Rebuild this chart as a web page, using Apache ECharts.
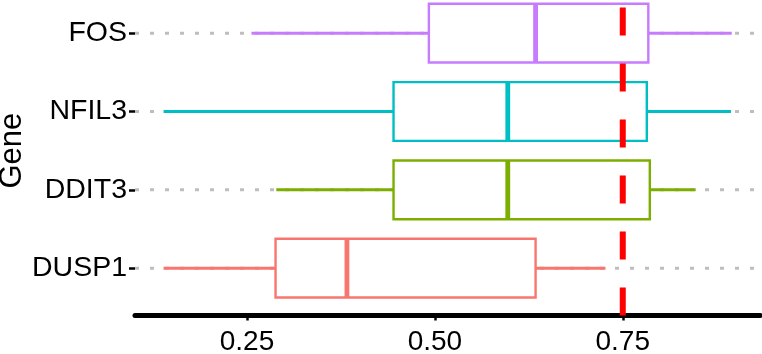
<!DOCTYPE html>
<html>
<head>
<meta charset="utf-8">
<script src="https://cdn.jsdelivr.net/npm/echarts@6/dist/echarts.min.js"></script>
<style>
  html, body { margin: 0; padding: 0; background: #fff; }
  #chart { width: 762px; height: 354px; }
</style>
</head>
<body>
<div id="chart"></div>
<script>
// genes, bottom to top
var genes = ["DUSP1", "DDIT3", "NFIL3", "FOS"];
var colors = ["#F8766D", "#7CAE00", "#00BFC4", "#C77CFF"];
// five-number summaries
var lower = [0.139, 0.289, 0.139, 0.256];
var q1 = [0.288, 0.445, 0.445, 0.492];
var median = [0.383, 0.597, 0.597, 0.634];
var q3 = [0.634, 0.786, 0.782, 0.784];
var upper = [0.727, 0.847, 0.894, 0.895];
var threshold = 0.75;
var xTicks = [0.25, 0.5, 0.75];
var xLimits = [0.101, 0.933];

var font = "'Liberation Sans', Arial, sans-serif";

var boxData = genes.map(function (g, i) {
  return [i, lower[i], q1[i], median[i], q3[i], upper[i]];
});

// dotted major grid lines at each gene
var gridSeries = genes.map(function (g) {
  return {
    type: "line",
    xAxisIndex: 0,
    yAxisIndex: 0,
    z: 1,
    silent: true,
    symbol: "none",
    lineStyle: { color: "#BEBEBE", width: 3, type: [4, 11], cap: "butt" },
    data: [[xLimits[0], g], [xLimits[1], g]],
  };
});

function renderBox(params, api) {
  var i = api.value(0);
  var band = api.size([0, 1])[1];
  var half = band * 0.75 / 2;
  var c = colors[i];
  var pLo = api.coord([api.value(1), i]);
  var pQ1 = api.coord([api.value(2), i]);
  var pMed = api.coord([api.value(3), i]);
  var pQ3 = api.coord([api.value(4), i]);
  var pHi = api.coord([api.value(5), i]);
  var y = pQ1[1];
  return {
    type: "group",
    children: [
      {
        type: "line",
        shape: { x1: pLo[0], y1: y, x2: pQ1[0], y2: y },
        style: { stroke: c, lineWidth: 3 },
      },
      {
        type: "line",
        shape: { x1: pQ3[0], y1: y, x2: pHi[0], y2: y },
        style: { stroke: c, lineWidth: 3 },
      },
      {
        type: "rect",
        shape: { x: pQ1[0], y: y - half, width: pQ3[0] - pQ1[0], height: half * 2 },
        style: { fill: "#fff", stroke: c, lineWidth: 2.4 },
      },
      {
        type: "line",
        shape: { x1: pMed[0], y1: y - half, x2: pMed[0], y2: y + half },
        style: { stroke: c, lineWidth: 4.8 },
      },
    ],
  };
}

var chart = echarts.init(document.getElementById("chart"));
var option = {
  animation: false,
  grid: [
    { left: 135, right: 1.7, top: -6, bottom: 46.7, outerBoundsMode: "none", containLabel: false },
    { left: 135, right: 1.7, top: 0, bottom: 38.5, outerBoundsMode: "none", containLabel: false },
  ],
  xAxis: [
    { gridIndex: 0, type: "value", min: xLimits[0], max: xLimits[1], show: false },
    {
      gridIndex: 1,
      type: "value",
      min: xLimits[0],
      max: xLimits[1],
      splitLine: { show: false },
      axisLine: { show: true, lineStyle: { color: "#000", width: 5 } },
      axisTick: { show: true, customValues: xTicks, length: 5, lineStyle: { color: "#000", width: 2.5 } },
      axisLabel: {
        customValues: xTicks,
        margin: 13,
        color: "#000",
        fontSize: 28,
        fontFamily: font,
        formatter: function (v) { return v.toFixed(2); },
      },
    },
  ],
  yAxis: [
    {
      gridIndex: 0,
      type: "category",
      data: genes,
      name: "Gene",
      nameLocation: "middle",
      nameRotate: 90,
      nameGap: 107,
      nameMoveOverlap: false,
      nameTextStyle: { color: "#000", fontSize: 31, fontFamily: font },
      axisLine: { show: false },
      axisTick: { show: true, alignWithLabel: true, length: 6, lineStyle: { color: "#000", width: 2.5 } },
      axisLabel: { margin: 8, color: "#000", fontSize: 28.5, fontFamily: font },
      splitLine: { show: false },
    },
    { gridIndex: 1, type: "value", min: 0, max: 1, show: false },
  ],
  series: gridSeries.concat([
    {
      type: "custom",
      xAxisIndex: 0,
      yAxisIndex: 0,
      z: 2,
      renderItem: renderBox,
      encode: { x: [1, 2, 3, 4, 5], y: 0 },
      data: boxData,
    },
    {
      type: "line",
      xAxisIndex: 1,
      yAxisIndex: 1,
      z: 3,
      silent: true,
      symbol: "none",
      lineStyle: { color: "#FF0000", width: 6, type: [28, 28], cap: "butt" },
      data: [[threshold, 0], [threshold, 1]],
    },
  ]),
};
chart.setOption(option);
</script>
</body>
</html>
